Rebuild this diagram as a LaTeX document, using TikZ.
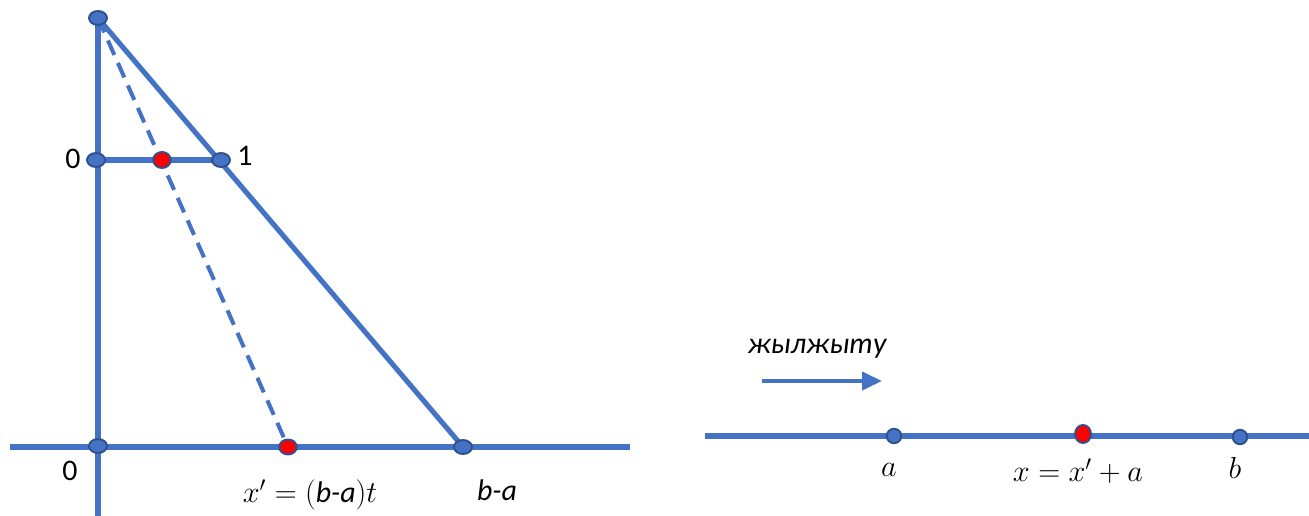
\documentclass[tikz,border=0pt]{standalone}
\usepackage{fontspec}
\setmainfont{Carlito}
\usetikzlibrary{arrows.meta,shapes.geometric,backgrounds}
\definecolor{axisblue}{HTML}{4472C4}
\definecolor{rimblue}{HTML}{2F528F}

\begin{document}
\begin{tikzpicture}[x=0.02cm,y=-0.02cm,
 dot/.style={ellipse,draw=rimblue,fill=axisblue,line width=1.1pt,minimum width=.36cm,minimum height=.28cm,inner sep=0pt},
 rdot/.style={dot,fill=red,minimum width=.35cm,minimum height=.32cm},
 cdot/.style={dot,circle,minimum size=.29cm},
 axis/.style={draw=axisblue,line width=2.9pt},
 guide/.style={draw=axisblue,line width=2.3pt,dash pattern=on 9pt off 5pt},
 lbl/.style={font=\fontsize{17}{20}\selectfont,inner sep=1pt},
 >={Triangle[length=4mm,width=3.6mm]}]
\useasboundingbox (0,0) rectangle (1309,516);
% left picture: points
\node[dot] (top) at (98,18) {};
\node[dot] (zeroU) at (96,160) {};
\node[rdot] (tU) at (162,160) {};
\node[dot] (oneU) at (221,160) {};
\node[dot] (zeroL) at (98,446) {};
\node[rdot,minimum height=.3cm] (xL) at (288,447) {};
\node[dot] (baL) at (463,447) {};
\coordinate (axL0) at (10,447);
\coordinate (axL1) at (630,447);
\coordinate (vbot) at (98,516);
\begin{scope}[on background layer]
\draw[axis] (top.center) -- (vbot);
\draw[axis] (axL0) -- (axL1);
\draw[axis] (zeroU.center) -- (oneU.center);
\draw[axis] (top.center) -- (baL.center);
\draw[guide] (top.center) -- (xL.center);
\end{scope}
\node[lbl] (l0u) at (73,159) {0};
\node[lbl] (l1u) at (245,156) {1};
\node[lbl] (l0l) at (70,471) {0};
\node[lbl] (lxp) at (310,495) {$x'=(${\itshape b-a}$)t$};
\node[lbl] (lba) at (497,490) {\itshape b-a};
% right picture: shifted line
\node[cdot] (pa) at (894,436) {};
\node[rdot,minimum width=.32cm,minimum height=.36cm] (px) at (1083,434) {};
\node[cdot] (pb) at (1240,437) {};
\coordinate (axR0) at (705,436);
\coordinate (axR1) at (1309,436);
\begin{scope}[on background layer]
\draw[axis] (axR0) -- (axR1);
\end{scope}
\node[lbl] (la) at (889,470) {$a$};
\node[lbl] (lx) at (1078,471) {$x=x'+a$};
\node[lbl] (lb) at (1235,468) {$b$};
\coordinate (shS) at (762,381);
\coordinate (shE) at (882,381);
\draw[axisblue,line width=2.3pt,->] (shS) -- (shE);
\node[lbl] (lsh) at (817,349) {\itshape жылжыту};
\end{tikzpicture}
\end{document}
